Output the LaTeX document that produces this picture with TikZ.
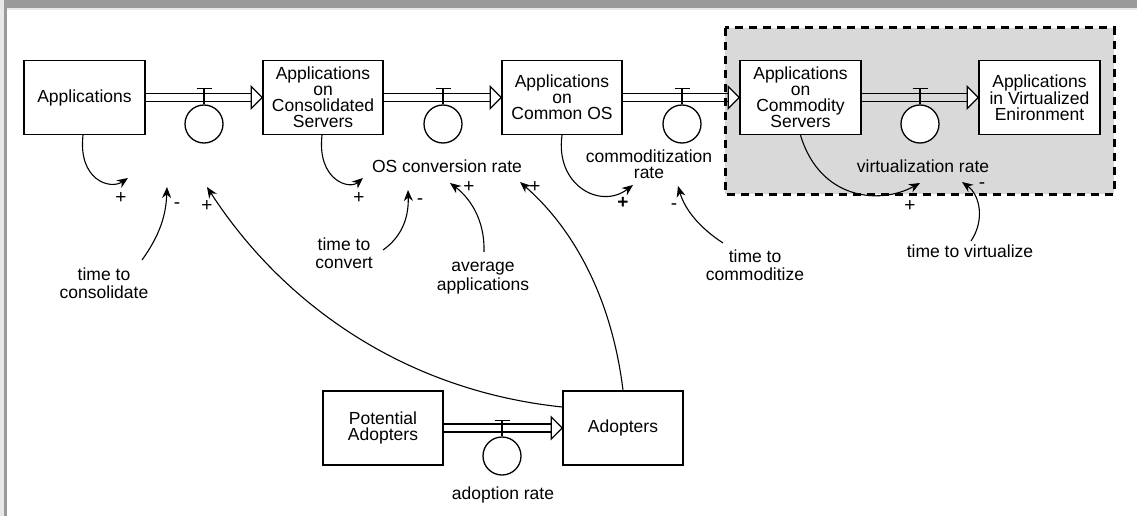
\documentclass[tikz,border=0pt]{standalone}
\usepackage{fontspec}
\setmainfont{Liberation Sans}
\usetikzlibrary{arrows.meta,calc}
\definecolor{framegray}{HTML}{9A9A9A}
\definecolor{framelight}{HTML}{E8E8E8}
\definecolor{zonegray}{HTML}{D9D9D9}
\newcommand\flowpipe[2]{%
  \draw[pipeline] ([yshift=4pt]#1.east) -- ([xshift=-11pt,yshift=4pt]#2.west);
  \draw[pipeline] ([yshift=-4pt]#1.east) -- ([xshift=-11pt,yshift=-4pt]#2.west);
  \draw[pipeline,fill=white] ([xshift=-11pt,yshift=11pt]#2.west) -- (#2.west) -- ([xshift=-11pt,yshift=-11pt]#2.west) -- cycle;
}
\newcommand\valvetop[1]{%
  \draw[pipeline] (#1.north) -- ++(0,-16) coordinate (#1-t);
  \draw[pipeline] ([xshift=-7.5pt]#1-t) -- ([xshift=7.5pt]#1-t);
}
\begin{document}
\begin{tikzpicture}[x=1pt,y=-1pt,
  stockbox/.style={draw,line width=1.4pt,fill=white,minimum width=121pt,minimum height=74pt,
    align=center,inner sep=0pt,font=\fontsize{17.5}{16}\selectfont},
  valvecirc/.style={circle,draw,line width=1.3pt,minimum size=38pt,inner sep=0pt,fill=white},
  pipeline/.style={line width=1.3pt},
  lbl/.style={align=center,inner sep=0pt,font=\fontsize{17.5}{18.5}\selectfont},
  sgn/.style={inner sep=0pt,font=\fontsize{19}{19}\selectfont},
  infl/.style={-{Stealth[length=11pt,width=9pt]},line width=1.1pt}]
\useasboundingbox (0,0) rectangle (1137,516);
\fill[white] (0,0) rectangle (1137,516);
% frame
\fill[framegray] (0,0) rectangle (1137,8);
\fill[framelight] (0,8) rectangle (1137,10);
\fill[framelight] (0,0) rectangle (4,516);
\fill[framegray] (4,8) rectangle (7,516);
% highlighted zone
\draw[fill=zonegray,line width=3pt,dash pattern=on 8pt off 6pt] (725,28) rectangle (1114,194);

% stocks
\node[stockbox] (apps) at (84.5,97.5) {Applications};
\node[stockbox,minimum width=120pt] (cons) at (323,97.5) {Applications\\on\\Consolidated\\Servers};
\node[stockbox,minimum width=120pt] (cos) at (562,97.5) {Applications\\on\\Common OS};
\node[stockbox] (comm) at (800.5,97.5) {Applications\\on\\Commodity\\Servers};
\node[stockbox] (virt) at (1039.5,97.5) {Applications\\in Virtualized\\Enironment};
\node[stockbox,minimum width=120pt] (padopt) at (383,428) {Potential\\Adopters};
\node[stockbox,minimum width=120pt] (adopt) at (623,428) {Adopters};

% flows
\flowpipe{apps}{cons}
\flowpipe{cons}{cos}
\flowpipe{cos}{comm}
\flowpipe{comm}{virt}
\flowpipe{padopt}{adopt}

% valves
\node[valvecirc] (v1) at (204,124) {};
\node[valvecirc] (v2) at (443,124) {};
\node[valvecirc] (v3) at (682,124) {};
\node[valvecirc] (v4) at (920,124) {};
\node[valvecirc] (v5) at (502,456) {};
\valvetop{v1}\valvetop{v2}\valvetop{v3}\valvetop{v4}\valvetop{v5}

% rate labels
\node[lbl] (osrate) at (447,166) {OS conversion rate};
\node[lbl,font=\fontsize{17.5}{16}\selectfont] (comrate) at (649,164) {commoditization\\rate};
\node[lbl] (virtrate) at (923,166) {virtualization rate};
\node[lbl] (adrate) at (503,495) {adoption rate};

% auxiliary labels
\node[lbl] (ttc) at (104,283) {time to\\consolidate};
\node[lbl] (ttconv) at (344,253) {time to\\convert};
\node[lbl] (avg) at (483,278) {average\\applications};
\node[lbl] (ttcom) at (755,265) {time to\\commoditize};
\node[lbl] (ttv) at (970,251) {time to virtualize};

% influence end points
\coordinate (r1p) at (128,178);
\coordinate (r1m) at (167,187);
\coordinate (r1a) at (207,187);
\coordinate (r2p) at (363,178);
\coordinate (r2m) at (408,190);
\coordinate (r2v) at (450,183);
\coordinate (r2a) at (520,182);
\coordinate (r3p) at (633,185);
\coordinate (r3m) at (678,186);
\coordinate (r4p) at (920,183);
\coordinate (r4m) at (962,182);

% influences
\draw[infl] ([xshift=-1.5pt]apps.south) .. controls (78,180) and (110,190) .. (r1p);
\draw[infl] ($(ttc.center)+(38,-23)$) .. controls (160,235) and (166,215) .. (r1m);
\draw[infl] ([yshift=21pt]adopt.west) .. controls (400,390) and (280,300) .. (r1a);
\draw[infl] ([xshift=-1pt]cons.south) .. controls (317,180) and (349,190) .. (r2p);
\draw[infl] ($(ttconv.center)+(39,-3)$) .. controls (400,238) and (409,220) .. (r2m);
\draw[infl] ($(avg.center)+(1,-26)$) .. controls (485,220) and (470,198) .. (r2v);
\draw[infl] (adopt.north) .. controls (612,300) and (575,230) .. (r2a);
\draw[infl] (cos.south) .. controls (555,185) and (600,210) .. (r3p);
\draw[infl] ($(ttcom.center)+(-32,-22)$) .. controls (700,228) and (685,210) .. (r3m);
\draw[infl] (comm.south) .. controls (820,200) and (880,205) .. (r4p);
\draw[infl] ($(ttv.center)+(1,-10)$) .. controls (985,220) and (980,195) .. (r4m);

% polarity signs
\node[sgn] (s1) at (121,198) {+};
\node[sgn] (s2) at (177,206) {-};
\node[sgn] (s3) at (207,206) {+};
\node[sgn] (s4) at (359,198) {+};
\node[sgn] (s5) at (420,202) {-};
\node[sgn] (s6) at (469,187) {+};
\node[sgn] (s7) at (535,187) {+};
\node[sgn,font=\fontsize{19}{19}\selectfont\bfseries] (s8) at (623,203) {+};
\node[sgn] (s9) at (674,207) {-};
\node[sgn] (s10) at (910,206) {+};
\node[sgn] (s11) at (982,186) {-};
\end{tikzpicture}
\end{document}
